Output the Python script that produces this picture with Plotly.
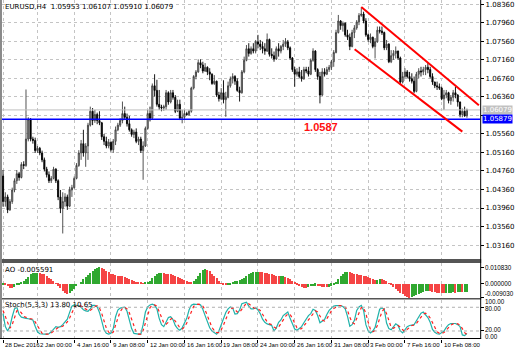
import plotly.graph_objects as go

# ---- EURUSD H4 candles (28 Dec 2016 12:00 .. 13 Feb 2017) ----
opens = [
    1.0465, 1.0410, 1.0420, 1.0392, 1.0410, 1.0435, 1.0455, 1.0470, 1.0462, 1.0490,
    1.0488, 1.0545, 1.0588, 1.0545, 1.0542, 1.0520, 1.0525, 1.0515, 1.0500, 1.0480,
    1.0468, 1.0455, 1.0460, 1.0480, 1.0455, 1.0420, 1.0395, 1.0410, 1.0420, 1.0400,
    1.0435, 1.0440, 1.0460, 1.0488, 1.0515, 1.0535, 1.0515, 1.0530, 1.0575, 1.0605,
    1.0585, 1.0598, 1.0585, 1.0580, 1.0550, 1.0540, 1.0530, 1.0538, 1.0522, 1.0540,
    1.0565, 1.0575, 1.0585, 1.0600, 1.0592, 1.0578, 1.0565, 1.0555, 1.0560, 1.0540,
    1.0545, 1.0520, 1.0530, 1.0568, 1.0600, 1.0590, 1.0660, 1.0650, 1.0620, 1.0614,
    1.0612, 1.0615, 1.0645, 1.0625, 1.0645, 1.0635, 1.0605, 1.0620, 1.0590, 1.0592,
    1.0600, 1.0598, 1.0605, 1.0655, 1.0680, 1.0690, 1.0710, 1.0705, 1.0692, 1.0700,
    1.0690, 1.0685, 1.0665, 1.0670, 1.0640, 1.0632, 1.0645, 1.0630, 1.0635, 1.0660,
    1.0675, 1.0680, 1.0670, 1.0650, 1.0645, 1.0690, 1.0715, 1.0740, 1.0730, 1.0740,
    1.0735, 1.0755, 1.0750, 1.0745, 1.0740, 1.0735, 1.0760, 1.0728, 1.0725, 1.0718,
    1.0740, 1.0735, 1.0745, 1.0750, 1.0755, 1.0742, 1.0720, 1.0695, 1.0685, 1.0690,
    1.0680, 1.0675, 1.0695, 1.0692, 1.0685, 1.0715, 1.0735, 1.0695, 1.0680, 1.0640,
    1.0690, 1.0685, 1.0695, 1.0700, 1.0712, 1.0732, 1.0775, 1.0800, 1.0790, 1.0795,
    1.0770, 1.0765, 1.0745, 1.0775, 1.0785, 1.0798, 1.0812, 1.0815, 1.0800, 1.0770,
    1.0760, 1.0765, 1.0745, 1.0755, 1.0780, 1.0778, 1.0775, 1.0742, 1.0750, 1.0712,
    1.0725, 1.0730, 1.0735, 1.0720, 1.0668, 1.0680, 1.0690, 1.0680, 1.0675, 1.0670,
    1.0648, 1.0685, 1.0692, 1.0690, 1.0695, 1.0700, 1.0695, 1.0680, 1.0668, 1.0660,
    1.0658, 1.0655, 1.0632, 1.0640, 1.0645, 1.0628, 1.0635, 1.0645, 1.0640, 1.0625,
    1.0598, 1.0605, 1.05953,
]
highs = [
    1.0478, 1.0430, 1.0425, 1.0415, 1.0440, 1.0460, 1.0478, 1.0474, 1.0495, 1.0497,
    1.0652, 1.0592, 1.0590, 1.0550, 1.0548, 1.0530, 1.0528, 1.0520, 1.0505, 1.0485,
    1.0475, 1.0465, 1.0485, 1.0482, 1.0458, 1.0435, 1.0430, 1.0428, 1.0425, 1.0442,
    1.0446, 1.0464, 1.0493, 1.0521, 1.0543, 1.0565, 1.0536, 1.0580, 1.0615, 1.0612,
    1.0608, 1.0602, 1.0605, 1.0582, 1.0556, 1.0550, 1.0545, 1.0540, 1.0545, 1.0572,
    1.0580, 1.0590, 1.0626, 1.0615, 1.0600, 1.0595, 1.0568, 1.0565, 1.0568, 1.0550,
    1.0550, 1.0540, 1.0572, 1.0608, 1.0615, 1.0665, 1.0685, 1.0673, 1.0651, 1.0619,
    1.0619, 1.0651, 1.0648, 1.0651, 1.0651, 1.0640, 1.0630, 1.0630, 1.0608, 1.0608,
    1.0604, 1.0608, 1.0658, 1.0683, 1.0694, 1.0717, 1.0717, 1.0712, 1.0709, 1.0702,
    1.0698, 1.0687, 1.0683, 1.0671, 1.0647, 1.0655, 1.0672, 1.0647, 1.0669, 1.0680,
    1.0687, 1.0683, 1.0676, 1.0658, 1.0694, 1.0723, 1.0748, 1.0752, 1.0745, 1.0752,
    1.0759, 1.0770, 1.0759, 1.0755, 1.0752, 1.0773, 1.0762, 1.0741, 1.0734, 1.0745,
    1.0752, 1.0748, 1.0759, 1.0763, 1.0759, 1.0745, 1.0722, 1.0701, 1.0698, 1.0701,
    1.0694, 1.0701, 1.0701, 1.0701, 1.0719, 1.0741, 1.0737, 1.0698, 1.0690, 1.0698,
    1.0698, 1.0701, 1.0705, 1.0716, 1.0737, 1.0781, 1.0813, 1.0802, 1.0799, 1.0797,
    1.0781, 1.0773, 1.0781, 1.0791, 1.0802, 1.0817, 1.0829, 1.0820, 1.0806, 1.0773,
    1.0773, 1.0766, 1.0763, 1.0788, 1.0788, 1.0788, 1.0777, 1.0759, 1.0752, 1.0737,
    1.0737, 1.0745, 1.0736, 1.0723, 1.0690, 1.0698, 1.0694, 1.0690, 1.0687, 1.0680,
    1.0690, 1.0698, 1.0701, 1.0701, 1.0705, 1.0709, 1.0701, 1.0687, 1.0669, 1.0669,
    1.0665, 1.0658, 1.0651, 1.0651, 1.0647, 1.0640, 1.0651, 1.0658, 1.0642, 1.0626,
    1.0611, 1.0615, 1.06107,
]
lows = [
    1.0399, 1.0399, 1.0385, 1.0390, 1.0405, 1.0430, 1.0448, 1.0455, 1.0460, 1.0480,
    1.0485, 1.0540, 1.0540, 1.0535, 1.0515, 1.0515, 1.0510, 1.0495, 1.0475, 1.0462,
    1.0450, 1.0450, 1.0458, 1.0450, 1.0413, 1.0385, 1.0341, 1.0399, 1.0392, 1.0398,
    1.0420, 1.0438, 1.0458, 1.0485, 1.0500, 1.0507, 1.0485, 1.0500, 1.0572, 1.0575,
    1.0580, 1.0577, 1.0575, 1.0543, 1.0532, 1.0525, 1.0525, 1.0518, 1.0515, 1.0532,
    1.0562, 1.0571, 1.0579, 1.0586, 1.0572, 1.0561, 1.0550, 1.0547, 1.0536, 1.0532,
    1.0515, 1.0457, 1.0528, 1.0565, 1.0583, 1.0588, 1.0637, 1.0615, 1.0608, 1.0605,
    1.0606, 1.0608, 1.0619, 1.0622, 1.0630, 1.0601, 1.0603, 1.0586, 1.0579, 1.0588,
    1.0595, 1.0595, 1.0602, 1.0652, 1.0674, 1.0688, 1.0698, 1.0687, 1.0690, 1.0683,
    1.0672, 1.0662, 1.0662, 1.0636, 1.0626, 1.0629, 1.0622, 1.0593, 1.0633, 1.0656,
    1.0665, 1.0662, 1.0647, 1.0626, 1.0643, 1.0687, 1.0713, 1.0723, 1.0727, 1.0730,
    1.0730, 1.0741, 1.0737, 1.0730, 1.0727, 1.0733, 1.0723, 1.0719, 1.0712, 1.0716,
    1.0723, 1.0730, 1.0737, 1.0744, 1.0737, 1.0716, 1.0690, 1.0658, 1.0680, 1.0676,
    1.0669, 1.0673, 1.0687, 1.0680, 1.0683, 1.0712, 1.0690, 1.0673, 1.0622, 1.0638,
    1.0680, 1.0683, 1.0690, 1.0694, 1.0701, 1.0730, 1.0773, 1.0781, 1.0777, 1.0766,
    1.0759, 1.0737, 1.0743, 1.0763, 1.0781, 1.0791, 1.0809, 1.0795, 1.0766, 1.0755,
    1.0752, 1.0741, 1.0719, 1.0753, 1.0773, 1.0770, 1.0737, 1.0737, 1.0709, 1.0709,
    1.0716, 1.0719, 1.0716, 1.0662, 1.0665, 1.0676, 1.0676, 1.0669, 1.0665, 1.0644,
    1.0646, 1.0676, 1.0680, 1.0683, 1.0683, 1.0687, 1.0676, 1.0662, 1.0655, 1.0651,
    1.0651, 1.0629, 1.0608, 1.0633, 1.0622, 1.0619, 1.0626, 1.0633, 1.0615, 1.0592,
    1.0592, 1.0593, 1.05910,
]
closes = [
    1.0410, 1.0420, 1.0392, 1.0410, 1.0435, 1.0455, 1.0470, 1.0462, 1.0490, 1.0488,
    1.0545, 1.0588, 1.0545, 1.0542, 1.0520, 1.0525, 1.0515, 1.0500, 1.0480, 1.0468,
    1.0455, 1.0460, 1.0480, 1.0455, 1.0420, 1.0395, 1.0410, 1.0420, 1.0400, 1.0435,
    1.0440, 1.0460, 1.0488, 1.0515, 1.0535, 1.0515, 1.0530, 1.0575, 1.0605, 1.0585,
    1.0598, 1.0585, 1.0580, 1.0550, 1.0540, 1.0530, 1.0538, 1.0522, 1.0540, 1.0565,
    1.0575, 1.0585, 1.0600, 1.0592, 1.0578, 1.0565, 1.0555, 1.0560, 1.0540, 1.0545,
    1.0520, 1.0530, 1.0568, 1.0600, 1.0590, 1.0660, 1.0650, 1.0620, 1.0614, 1.0612,
    1.0615, 1.0645, 1.0625, 1.0645, 1.0635, 1.0605, 1.0620, 1.0590, 1.0592, 1.0600,
    1.0598, 1.0605, 1.0655, 1.0680, 1.0690, 1.0710, 1.0705, 1.0692, 1.0700, 1.0690,
    1.0685, 1.0665, 1.0670, 1.0640, 1.0632, 1.0645, 1.0630, 1.0635, 1.0660, 1.0675,
    1.0680, 1.0670, 1.0650, 1.0645, 1.0690, 1.0715, 1.0740, 1.0730, 1.0740, 1.0735,
    1.0755, 1.0750, 1.0745, 1.0740, 1.0735, 1.0760, 1.0728, 1.0725, 1.0718, 1.0740,
    1.0735, 1.0745, 1.0750, 1.0755, 1.0742, 1.0720, 1.0695, 1.0685, 1.0690, 1.0680,
    1.0675, 1.0695, 1.0692, 1.0685, 1.0715, 1.0735, 1.0695, 1.0680, 1.0640, 1.0690,
    1.0685, 1.0695, 1.0700, 1.0712, 1.0732, 1.0775, 1.0800, 1.0790, 1.0795, 1.0770,
    1.0765, 1.0745, 1.0775, 1.0785, 1.0798, 1.0812, 1.0815, 1.0800, 1.0770, 1.0760,
    1.0765, 1.0745, 1.0755, 1.0780, 1.0778, 1.0775, 1.0742, 1.0750, 1.0712, 1.0725,
    1.0730, 1.0735, 1.0720, 1.0668, 1.0680, 1.0690, 1.0680, 1.0675, 1.0670, 1.0648,
    1.0685, 1.0692, 1.0690, 1.0695, 1.0700, 1.0695, 1.0680, 1.0668, 1.0660, 1.0658,
    1.0655, 1.0632, 1.0640, 1.0645, 1.0628, 1.0635, 1.0645, 1.0640, 1.0625, 1.0598,
    1.0605, 1.0595, 1.06079,
]

# ---- Awesome Oscillator ----
ao = [
    -0.0003, -0.0006, -0.0015, -0.0025, -0.0030, -0.0022, -0.0010, -0.0002, 0.0005, 0.0015,
    0.0030, 0.0045, 0.0060, 0.0068, 0.0071, 0.0072, 0.0071, 0.0066, 0.0060, 0.0050,
    0.0040, 0.0030, 0.0015, 0.0002, -0.0012, -0.0028, -0.0045, -0.0058, -0.0065, -0.0058,
    -0.0045, -0.0035, -0.0015, 0.0000, 0.0012, 0.0028, 0.0042, 0.0055, 0.0070, 0.0085,
    0.0095, 0.0102, 0.0108, 0.0104, 0.0095, 0.0084, 0.0074, 0.0066, 0.0061, 0.0055,
    0.0050, 0.0048, 0.0047, 0.0045, 0.0040, 0.0033, 0.0026, 0.0020, 0.0013, 0.0008,
    0.0005, 0.0003, 0.0005, 0.0010, 0.0020, 0.0035, 0.0050, 0.0060, 0.0067, 0.0070,
    0.0070, 0.0066, 0.0062, 0.0060, 0.0058, 0.0052, 0.0046, 0.0040, 0.0033, 0.0026,
    0.0018, 0.0010, 0.0008, 0.0015, 0.0030, 0.0050, 0.0070, 0.0088, 0.0095, 0.0090,
    0.0080, 0.0064, 0.0050, 0.0038, 0.0018, 0.0002, -0.0005, -0.0008, -0.0006, -0.0002,
    0.0008, 0.0016, 0.0020, 0.0022, 0.0028, 0.0038, 0.0048, 0.0060, 0.0068, 0.0073,
    0.0077, 0.0078, 0.0076, 0.0075, 0.0072, 0.0068, 0.0064, 0.0060, 0.0055, 0.0050,
    0.0048, 0.0049, 0.0050, 0.0046, 0.0040, 0.0030, 0.0018, 0.0006, -0.0004, -0.0014,
    -0.0024, -0.0027, -0.0028, -0.0024, -0.0018, -0.0014, -0.0012, -0.0014, -0.0018, -0.0021,
    -0.0022, -0.0022, -0.0020, -0.0012, -0.0003, 0.0008, 0.0028, 0.0050, 0.0066, 0.0076,
    0.0079, 0.0075, 0.0070, 0.0065, 0.0060, 0.0057, 0.0055, 0.0053, 0.0050, 0.0044,
    0.0035, 0.0029, 0.0025, 0.0026, 0.0028, 0.0028, 0.0024, 0.0015, 0.0004, -0.0008,
    -0.0020, -0.0032, -0.0045, -0.0058, -0.0070, -0.0080, -0.0087, -0.0090, -0.0088, -0.0082,
    -0.0075, -0.0067, -0.0060, -0.0054, -0.0050, -0.0048, -0.0049, -0.0052, -0.0056, -0.0060,
    -0.0062, -0.0063, -0.0063, -0.0061, -0.0059, -0.0058, -0.0057, -0.0058, -0.0057, -0.0056,
    -0.0057, -0.0056, -0.005591,
]

# ---- Stochastic (5,3,3): main %K and signal %D ----
stoch_main = [
    64, 31, 20, 31, 56, 76, 80, 62, 55, 53,
    52, 51, 50, 48, 32, 18, 13, 12, 12, 12,
    13, 18, 25, 31, 29, 31, 36, 42, 50, 67,
    83, 86, 85, 84, 80, 74, 71, 70, 76, 85,
    85, 81, 67, 44, 23, 14, 12, 14, 26, 56,
    73, 78, 80, 80, 70, 48, 26, 14, 12, 12,
    12, 36, 68, 81, 86, 88, 85, 76, 52, 36,
    31, 42, 54, 56, 49, 34, 26, 22, 28, 40,
    52, 73, 85, 88, 88, 87, 86, 75, 59, 41,
    28, 20, 16, 12, 20, 36, 50, 67, 76, 81,
    78, 63, 64, 73, 89, 92, 93, 83, 76, 76,
    79, 73, 64, 50, 42, 38, 36, 34, 20, 28,
    42, 48, 59, 64, 68, 52, 36, 25, 22, 26,
    31, 41, 50, 59, 64, 75, 72, 59, 41, 44,
    49, 62, 72, 78, 83, 84, 84, 84, 82, 76,
    57, 32, 36, 47, 72, 81, 85, 72, 36, 20,
    15, 20, 29, 54, 75, 78, 75, 40, 26, 23,
    31, 38, 34, 20, 15, 23, 31, 34, 35, 36,
    46, 57, 65, 68, 62, 54, 42, 24, 17, 13,
    12, 17, 20, 29, 36, 39, 39, 39, 36, 31,
    10, 8.15, 13.80,
]
stoch_signal = [
    72, 57, 38, 27, 36, 55, 71, 72, 66, 57,
    54, 52, 51, 50, 43, 33, 21, 14, 12, 12,
    12, 15, 19, 25, 29, 30, 32, 37, 43, 53,
    67, 79, 85, 85, 83, 79, 75, 72, 72, 77,
    82, 84, 78, 64, 45, 27, 17, 13, 17, 32,
    52, 69, 77, 80, 76, 66, 48, 29, 17, 12,
    12, 21, 39, 62, 79, 85, 86, 83, 71, 55,
    40, 37, 42, 50, 53, 46, 37, 28, 25, 30,
    40, 55, 70, 82, 87, 88, 87, 83, 73, 58,
    42, 29, 21, 16, 16, 23, 35, 51, 64, 75,
    79, 74, 68, 67, 76, 85, 91, 89, 84, 79,
    77, 76, 72, 63, 52, 43, 38, 36, 30, 27,
    30, 39, 50, 57, 63, 62, 52, 38, 28, 25,
    26, 33, 41, 50, 58, 66, 71, 68, 57, 48,
    45, 51, 61, 71, 77, 81, 84, 84, 83, 80,
    72, 55, 42, 38, 51, 67, 79, 79, 64, 42,
    24, 18, 21, 34, 53, 69, 76, 64, 47, 29,
    27, 30, 34, 30, 23, 19, 23, 29, 34, 35,
    39, 47, 56, 63, 65, 61, 53, 40, 28, 18,
    14, 14, 16, 22, 29, 35, 38, 39, 38, 35,
    26, 16, 10.65,
]

# ---- axis labels and drawn objects ----
price_ticks = [1.0836, 1.0796, 1.0756, 1.0716, 1.0676, 1.0636, 1.0596,
               1.0556, 1.0516, 1.0476, 1.0436, 1.0396, 1.0356, 1.0316]
time_label_bars = [0, 15, 31, 47, 63, 79, 95, 111, 127, 143, 159, 175, 191]
time_labels = ["28 Dec 2016", "2 Jan 00:00", "4 Jan 16:00", "9 Jan 08:00",
               "12 Jan 00:00", "16 Jan 16:00", "19 Jan 08:00", "24 Jan 00:00",
               "26 Jan 16:00", "31 Jan 08:00", "3 Feb 00:00", "7 Feb 16:00",
               "10 Feb 08:00"]
support_level = 1.05879
support_text = "1.0587"
support_text_pos = (138.5, 1.0571)
bid_price = 1.06079
channel_upper = [(156.0, 1.0830), (207.2, 1.0618)]
channel_lower = [(153.1, 1.0739), (200.0, 1.0561)]
ao_labels = ["0.010830", "0.000000", "-0.009030"]
stoch_scale_labels = ["100.00", "80.00", "20.00", "0.00"]
stoch_levels = [80, 20]

bars = list(range(len(closes)))

# ---- pixel geometry of the 515x350 canvas ----
W, H = 515, 350
def py(px):
    return 1 - px / H

x_dom = [2 / W, 483 / W]
x_rng = [-0.45, 207.77]
main_dom = [py(259), py(0)]
ao_dom = [py(298), py(263)]
st_dom = [py(338.5), py(299.5)]

FONT = "DejaVu Sans"
SANS = "Liberation Sans"
GRID = "#c4c4c4"

fig = go.Figure()

fig.add_trace(go.Candlestick(
    x=bars, open=opens, high=highs, low=lows, close=closes,
    xaxis="x", yaxis="y",
    increasing=dict(line=dict(color="#404040", width=0.9), fillcolor="#a8a8a8"),
    decreasing=dict(line=dict(color="#000000", width=0.9), fillcolor="#000000"),
    whiskerwidth=0, hoverinfo="skip", showlegend=False,
))

ao_colors = ["#30a830"] + ["#30a830" if ao[i] > ao[i - 1] else "#f54444"
                           for i in range(1, len(ao))]
fig.add_trace(go.Bar(
    x=bars, y=ao, xaxis="x2", yaxis="y2", width=0.5,
    marker=dict(color=ao_colors, line=dict(width=0)),
    hoverinfo="skip", showlegend=False,
))

fig.add_trace(go.Scatter(
    x=bars, y=stoch_main, xaxis="x3", yaxis="y3", mode="lines",
    line=dict(color="#20b2aa", width=1.2), hoverinfo="skip", showlegend=False,
))
fig.add_trace(go.Scatter(
    x=bars, y=stoch_signal, xaxis="x3", yaxis="y3", mode="lines",
    line=dict(color="#ff2020", width=1.2, dash="dot"), hoverinfo="skip", showlegend=False,
))

shapes = []
# bid line and support line
shapes.append(dict(type="line", xref="x", yref="y", x0=x_rng[0], x1=x_rng[1],
                   y0=bid_price, y1=bid_price, line=dict(color="#c0c0c0", width=1)))
shapes.append(dict(type="line", xref="x", yref="y", x0=x_rng[0], x1=x_rng[1],
                   y0=support_level, y1=support_level, line=dict(color="#0000ff", width=1.6)))
# descending channel
for (xa, ya), (xb, yb) in (channel_upper, channel_lower):
    shapes.append(dict(type="line", xref="x", yref="y", x0=xa, y0=ya, x1=xb, y1=yb,
                       line=dict(color="#ff0000", width=2)))
# stochastic levels
for lv in stoch_levels:
    shapes.append(dict(type="line", xref="x3", yref="y3", x0=x_rng[0], x1=x_rng[1],
                       y0=lv, y1=lv, line=dict(color="#b0b0b0", width=1, dash="dot")))
# window separators and frame
for top, bot in ((259, 263), (298, 299.5)):
    shapes.append(dict(type="rect", xref="paper", yref="paper", x0=0, x1=484 / W,
                       y0=py(bot), y1=py(top), fillcolor="#555555", line=dict(width=0)))
shapes.append(dict(type="rect", xref="paper", yref="paper", x0=0, x1=2 / W,
                   y0=py(338.5), y1=1, fillcolor="#8a8a8a", line=dict(width=0)))
shapes.append(dict(type="line", xref="paper", yref="paper", x0=0, x1=484 / W,
                   y0=py(338.5), y1=py(338.5), line=dict(color="#000000", width=1)))
shapes.append(dict(type="line", xref="paper", yref="paper", x0=483.5 / W, x1=483.5 / W,
                   y0=py(338.5), y1=1, line=dict(color="#000000", width=1)))

ann = []
small = dict(family=FONT, size=7, color="#000000")
scale_font = dict(family=SANS, size=6.3, color="#000000")
time_font = dict(family=SANS, size=6.1, color="#000000")
ann.append(dict(text="EURUSD,H4  1.05953 1.06107 1.05910 1.06079", xref="paper", yref="paper",
                x=3 / W, y=py(0.5), xanchor="left", yanchor="top", showarrow=False, font=small))
ann.append(dict(text="AO -0.005591", xref="paper", yref="paper",
                x=3 / W, y=py(270), xanchor="left", yanchor="middle", showarrow=False, font=small))
ann.append(dict(text="Stoch(5,3,3) 13.80 10.65", xref="paper", yref="paper",
                x=3 / W, y=py(305), xanchor="left", yanchor="middle", showarrow=False, font=small))
ann.append(dict(text="<b>" + support_text + "</b>", xref="x", yref="y",
                x=support_text_pos[0], y=support_text_pos[1], showarrow=False,
                font=dict(family="Liberation Sans", size=11, color="#ff1010")))
# price boxes on the scale
for val, bg in ((bid_price, "#c0c0c0"), (support_level, "#0000ff")):
    ann.append(dict(text=f"{val:.5f}", xref="paper", yref="y", x=485 / W, y=val,
                    xanchor="left", yanchor="middle", showarrow=False, bgcolor=bg,
                    borderpad=0, font=dict(family=FONT, size=7, color="#ffffff")))
# indicator window scale labels
for txt, pxy in zip(ao_labels, (267.3, 283.7, 293.8)):
    ann.append(dict(text=txt, xref="paper", yref="paper", x=486 / W, y=py(pxy),
                    xanchor="left", yanchor="middle", showarrow=False, font=scale_font))
for txt, pxy in zip(stoch_scale_labels, (301.4, 308.0, 329.6, 336.0)):
    ann.append(dict(text=txt, xref="paper", yref="paper", x=486 / W, y=py(pxy),
                    xanchor="left", yanchor="middle", showarrow=False, font=scale_font))
# time scale labels
for b, txt in zip(time_label_bars, time_labels):
    ann.append(dict(text=txt, xref="x3", yref="paper", x=b, y=py(344.5),
                    xanchor="left", yanchor="middle", xshift=0.3, showarrow=False,
                    font=time_font))

xcommon = dict(domain=x_dom, range=x_rng, showgrid=True, gridcolor=GRID, griddash="dot",
               gridwidth=1, tickvals=time_label_bars, showticklabels=False, zeroline=False,
               showline=False, fixedrange=True)

fig.update_layout(
    width=W, height=H, margin=dict(l=0, r=0, t=0, b=0),
    paper_bgcolor="#ffffff", plot_bgcolor="#ffffff",
    showlegend=False, bargap=0, hovermode=False,
    xaxis=dict(**xcommon, anchor="y", rangeslider=dict(visible=False)),
    xaxis2=dict(**xcommon, anchor="y2", matches="x"),
    xaxis3=dict(**xcommon, anchor="y3", matches="x", ticks="outside", ticklen=3,
                tickcolor="#000000"),
    yaxis=dict(domain=main_dom, range=[1.02859, 1.08453], side="right", anchor="x",
               tickvals=price_ticks,
               ticktext=["" if abs(t - 1.0596) < 1e-9 else f"{t:.5f}" for t in price_ticks],
               tickfont=small, ticks="outside", ticklen=3, tickcolor="#000000",
               showgrid=True, gridcolor=GRID, griddash="dot", zeroline=False,
               showline=False, fixedrange=True),
    yaxis2=dict(domain=ao_dom, range=[-0.0093, 0.01346], side="right", anchor="x2",
                tickvals=[0.01083, 0.0, -0.00903], showticklabels=False, ticks="outside",
                ticklen=3, tickcolor="#000000", showgrid=False, zeroline=False,
                fixedrange=True),
    yaxis3=dict(domain=st_dom, range=[1.0, 99.7], side="right", anchor="x3",
                tickvals=[100, 80, 20, 0], showticklabels=False, ticks="outside",
                ticklen=3, tickcolor="#000000", showgrid=False, zeroline=False,
                fixedrange=True),
    shapes=shapes, annotations=ann,
)

fig.write_html("out.html")
